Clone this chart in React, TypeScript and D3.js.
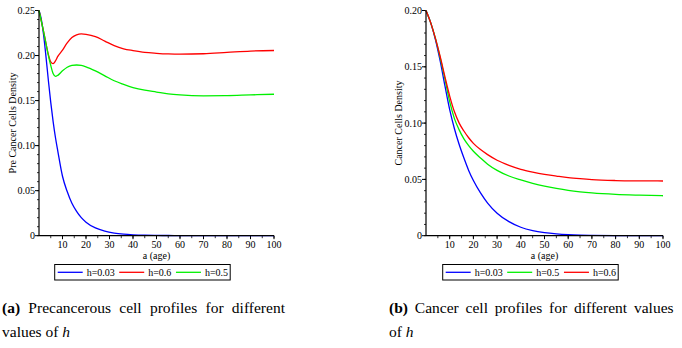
import React from "react";
import * as d3 from "d3";

// ---- data ----
const ageA = [0, 1, 2, 3, 4, 5, 6, 7, 8, 10, 12, 14, 16, 18, 20, 24, 28, 32, 36, 40, 45, 50, 55, 60, 70, 80, 90, 100];
const preH003 = [0.25, 0.24, 0.222, 0.198, 0.172, 0.148, 0.127, 0.109, 0.094, 0.066, 0.049, 0.036, 0.027, 0.02, 0.015, 0.0086, 0.005, 0.0029, 0.0017, 0.001, 0.0005, 0.0003, 0.0002, 0.0001, 0, 0, 0, 0];
const preH06 = [0.25, 0.238, 0.226, 0.213, 0.201, 0.193, 0.191, 0.194, 0.199, 0.206, 0.214, 0.22, 0.223, 0.224, 0.2235, 0.221, 0.216, 0.211, 0.2075, 0.2055, 0.2035, 0.2025, 0.2018, 0.2015, 0.202, 0.2035, 0.205, 0.2056];
const preH05 = [0.25, 0.238, 0.226, 0.213, 0.2, 0.189, 0.18, 0.1768, 0.178, 0.183, 0.187, 0.189, 0.1895, 0.189, 0.1875, 0.183, 0.1775, 0.172, 0.168, 0.1645, 0.1615, 0.1595, 0.1575, 0.1563, 0.1553, 0.1555, 0.1563, 0.157];

const ageB = [0, 2, 4, 6, 8, 10, 12, 14, 16, 18, 20, 23, 26, 30, 35, 40, 45, 50, 55, 60, 65, 70, 80, 90, 100];
const canH003 = [0.2, 0.189, 0.174, 0.155, 0.133, 0.112, 0.095, 0.081, 0.069, 0.058, 0.049, 0.038, 0.029, 0.02, 0.0125, 0.0075, 0.0045, 0.0027, 0.0016, 0.0009, 0.0005, 0.0003, 0.0001, 0, 0];
const canH05 = [0.2, 0.189, 0.175, 0.158, 0.139, 0.119, 0.104, 0.094, 0.086, 0.08, 0.075, 0.069, 0.0635, 0.058, 0.053, 0.0495, 0.0465, 0.044, 0.042, 0.0403, 0.039, 0.038, 0.0367, 0.036, 0.0355];
const canH06 = [0.2, 0.189, 0.175, 0.159, 0.141, 0.124, 0.11, 0.1, 0.093, 0.087, 0.082, 0.0765, 0.072, 0.067, 0.0625, 0.059, 0.0565, 0.0545, 0.053, 0.0516, 0.0506, 0.0498, 0.049, 0.0487, 0.0486];

const xTicks = [10, 20, 30, 40, 50, 60, 70, 80, 90, 100];
const yTicksA = [0, 0.05, 0.1, 0.15, 0.2, 0.25];
const yTicksB = [0, 0.05, 0.1, 0.15, 0.2];

const BLUE = "#0000ff";
const RED = "#ff0000";
const GREEN = "#00f000";

const font = { fontFamily: "Liberation Serif", fontSize: 10 };

const Panel = ({ x0, x1, yMax, ages, series, yTicks, yLabel, yLabelX, legendX }) => {
  const x = d3.scaleLinear().domain([0, 100]).range([x0, x1]);
  const y = d3.scaleLinear().domain([0, yMax]).range([235.7, 10.5]);
  const line = d3
    .line<number>()
    .x((d, i) => x(ages[i]))
    .y((d) => y(d))
    .curve(d3.curveMonotoneX);

  // legend layout (text widths approximated for 10px Times)
  let cx = 3;
  const items = series.map((s) => {
    const it = { ...s, lx: cx, tx: cx + 29 };
    cx += 29 + s.label.length * 4.75 + 4;
    return it;
  });

  return (
    <g style={font}>
      {d3.range(0, yMax + 1e-9, 0.01).map((d) => (
        <line key={"ym" + d} x1={x0 - 2} x2={x0} y1={y(d)} y2={y(d)} stroke="#000" strokeWidth={0.8} />
      ))}
      {d3.range(5, 101, 5).map((d) => (
        <line key={"xm" + d} x1={x(d)} x2={x(d)} y1={y(0)} y2={y(0) + 2.5} stroke="#000" strokeWidth={0.8} />
      ))}
      {yTicks.map((t) => (
        <g key={"yt" + t}>
          <line x1={x0 - 4} x2={x0} y1={y(t)} y2={y(t)} stroke="#000" />
          <text x={x0 - 4} y={y(t)} dy="0.35em" textAnchor="end">
            {t === 0 ? "0" : d3.format(".2f")(t)}
          </text>
        </g>
      ))}
      {xTicks.map((t) => (
        <g key={"xt" + t}>
          <line x1={x(t)} x2={x(t)} y1={y(0)} y2={y(0) + 3.5} stroke="#000" />
          <text x={x(t)} y={247.5} textAnchor="middle">
            {t}
          </text>
        </g>
      ))}
      {series.map((s) => (
        <path key={s.label} d={line(s.values) || ""} fill="none" stroke={s.color} strokeWidth={1.3} />
      ))}
      <line x1={x0} x2={x0} y1={y(0)} y2={y(yMax)} stroke="#000" strokeWidth={1.2} />
      <line x1={x0} x2={x1} y1={y(0)} y2={y(0)} stroke="#000" strokeWidth={1.2} />
      <text x={x(50)} y={258.5} textAnchor="middle">
        a (age)
      </text>
      <text transform={`translate(${yLabelX},123) rotate(-90)`} textAnchor="middle">
        {yLabel}
      </text>
      <g transform={`translate(${legendX},264.5)`}>
        <rect width={175.5} height={15.5} fill="#fff" stroke="#000" strokeWidth={1} />
        {items.map((s) => (
          <g key={"lg" + s.label}>
            <line x1={s.lx} x2={s.lx + 25} y1={7.8} y2={7.8} stroke={s.color} strokeWidth={1.3} />
            <text x={s.tx} y={11.3}>
              {s.label}
            </text>
          </g>
        ))}
      </g>
    </g>
  );
};

// first caption line is justified in the source, so words are spread out
const Caption = ({ x, tag, line1, line2, spread }) => (
  <g style={{ fontFamily: "Liberation Serif", fontSize: 15.5 }}>
    <text x={x} y={313} style={{ wordSpacing: spread }}>
      <tspan fontWeight="bold">{tag}</tspan>
      <tspan>{line1}</tspan>
    </text>
    <text x={x} y={337}>
      <tspan>{line2}</tspan>
      <tspan fontStyle="italic">h</tspan>
    </text>
  </g>
);

const App = () => {
  const aSeries = [
    { label: "h=0.03", color: BLUE, values: preH003 },
    { label: "h=0.6", color: RED, values: preH06 },
    { label: "h=0.5", color: GREEN, values: preH05 },
  ];
  const bSeries = [
    { label: "h=0.03", color: BLUE, values: canH003 },
    { label: "h=0.5", color: GREEN, values: canH05 },
    { label: "h=0.6", color: RED, values: canH06 },
  ];
  return (
    <svg width={682} height={348} style={{ position: "absolute", left: 0, top: 0, background: "#fff" }}>
      <Panel
        x0={39}
        x1={274}
        yMax={0.25}
        ages={ageA}
        series={aSeries}
        yTicks={yTicksA}
        yLabel="Pre Cancer Cells Density"
        yLabelX={16}
        legendX={54.7}
      />
      <Panel
        x0={426}
        x1={663}
        yMax={0.2}
        ages={ageB}
        series={bSeries}
        yTicks={yTicksB}
        yLabel="Cancer Cells Density"
        yLabelX={402}
        legendX={442.7}
      />
      <Caption x={2} tag="(a)" line1=" Precancerous cell profiles for different" line2="values of " spread={4.4} />
      <Caption x={389} tag="(b)" line1=" Cancer cell profiles for different values" line2="of " spread={3} />
    </svg>
  );
};

export default App;
